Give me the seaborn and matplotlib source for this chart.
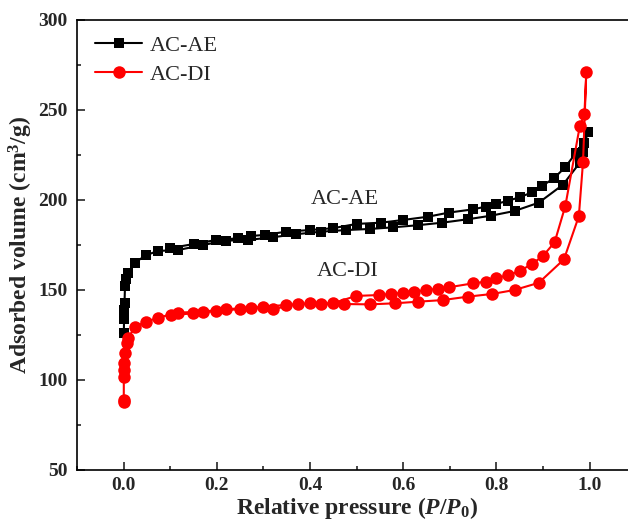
import numpy as np
import pandas as pd
import seaborn as sns
import matplotlib.pyplot as plt
from matplotlib.ticker import MultipleLocator

# AC-AE: adsorption branch then desorption branch (one closed loop)
ae_p_ads = [0.0005, 0.001, 0.0015, 0.002, 0.003, 0.005, 0.009, 0.024, 0.049, 0.074,
            0.117, 0.17, 0.22, 0.267, 0.32, 0.371, 0.424, 0.478, 0.528, 0.578,
            0.632, 0.684, 0.739, 0.789, 0.839, 0.891, 0.943, 0.979, 0.986, 0.996]
ae_v_ads = [126.0, 134.0, 139.0, 143.0, 152.0, 156.0, 159.3, 165.2, 169.4, 171.7,
            172.2, 175.0, 177.4, 177.8, 179.3, 181.0, 182.4, 183.3, 183.9, 184.8,
            186.0, 187.4, 189.3, 191.3, 193.9, 198.5, 208.5, 220.7, 226.8, 238.0]
ae_p_des = [0.989, 0.97, 0.948, 0.923, 0.898, 0.876, 0.85, 0.825, 0.8, 0.777,
            0.75, 0.698, 0.653, 0.6, 0.553, 0.5, 0.449, 0.399, 0.349, 0.303,
            0.274, 0.245, 0.199, 0.152, 0.099]
ae_v_des = [231.8, 226.0, 218.2, 212.0, 207.8, 204.2, 201.5, 199.6, 197.8, 196.3,
            194.8, 193.0, 190.7, 188.9, 187.4, 186.7, 184.3, 183.3, 182.4, 180.6,
            180.0, 178.7, 177.8, 175.6, 173.2]

# AC-DI
di_p_ads = [0.0002, 0.0004, 0.0005, 0.001, 0.0015, 0.003, 0.007, 0.01, 0.024, 0.049,
            0.074, 0.117, 0.17, 0.22, 0.274, 0.32, 0.374, 0.424, 0.474, 0.528,
            0.582, 0.632, 0.685, 0.739, 0.791, 0.839, 0.891, 0.945, 0.977, 0.986, 0.993]
di_v_ads = [87.9, 89.0, 101.8, 105.6, 109.3, 115.0, 120.4, 123.2, 129.6, 132.4,
            134.6, 137.4, 138.0, 139.3, 140.2, 139.3, 142.2, 142.2, 142.2, 142.0,
            142.6, 143.5, 144.4, 146.3, 147.8, 150.0, 154.0, 167.0, 191.0, 221.3, 271.0]
di_p_des = [0.989, 0.979, 0.948, 0.925, 0.9, 0.876, 0.85, 0.825, 0.8, 0.777,
            0.75, 0.698, 0.674, 0.65, 0.624, 0.6, 0.574, 0.549, 0.499, 0.449,
            0.399, 0.349, 0.299, 0.249, 0.199, 0.15, 0.102]
di_v_des = [247.8, 241.0, 196.7, 176.5, 168.9, 164.4, 160.5, 158.3, 156.5, 154.6,
            153.7, 151.5, 150.6, 150.0, 149.0, 148.5, 147.8, 147.2, 146.7, 142.6,
            142.6, 141.7, 140.7, 139.4, 138.3, 137.0, 136.1]

samples = ['AC-AE', 'AC-DI']

df = pd.concat([
    pd.DataFrame({'p': ae_p_ads + ae_p_des, 'v': ae_v_ads + ae_v_des, 'sample': 'AC-AE'}),
    pd.DataFrame({'p': di_p_ads + di_p_des, 'v': di_v_ads + di_v_des, 'sample': 'AC-DI'}),
], ignore_index=True)

sns.set_style('ticks')
plt.rcParams['font.family'] = ['Liberation Serif', 'DejaVu Serif']
plt.rcParams['mathtext.fontset'] = 'custom'
plt.rcParams['mathtext.rm'] = 'Liberation Serif:bold'
plt.rcParams['mathtext.bf'] = 'Liberation Serif:bold'
plt.rcParams['mathtext.it'] = 'Liberation Serif:italic:bold'

fig = plt.figure(figsize=(6.28, 5.26), dpi=100)
ax = fig.add_axes([0.1226, 0.1065, 0.8904, 0.8555])

sns.lineplot(data=df, x='p', y='v', hue='sample', style='sample',
             palette={'AC-AE': 'black', 'AC-DI': 'red'},
             markers={'AC-AE': 's', 'AC-DI': 'o'}, dashes=False,
             sort=False, estimator=None, legend=False, ax=ax,
             linewidth=1.5, markeredgewidth=0)
for line, s in zip(ax.lines, samples):
    line.set_markersize(7.5 if s == 'AC-AE' else 9)

ax.set_xlim(-0.1, 1.1)
ax.set_ylim(50, 300)
ax.xaxis.set_minor_locator(MultipleLocator(0.1))
ax.yaxis.set_major_locator(MultipleLocator(50))
ax.yaxis.set_minor_locator(MultipleLocator(25))
ax.set_xticks(np.arange(0, 1.01, 0.2))
ax.set_xticklabels([f'{t:.1f}' for t in np.arange(0, 1.01, 0.2)])
ax.tick_params(which='both', direction='in', top=False, right=False, width=1.2,
               labelsize=14)
ax.tick_params(which='major', length=6)
ax.tick_params(which='minor', length=3)
ax.tick_params(axis='y', pad=7)
ax.tick_params(axis='x', pad=5)
for lab in ax.get_xticklabels() + ax.get_yticklabels():
    lab.set_fontweight('bold')
for sp in ax.spines.values():
    sp.set_linewidth(1.2)
    sp.set_color('black')

ax.set_xlabel(r'Relative pressure ($P$/$P_0$)', fontsize=17, fontweight='bold', labelpad=1)
ax.set_ylabel(r'Adsorbed volume (cm$^3$/g)', fontsize=17, fontweight='bold', labelpad=2)

ax.text(0.474, 200.5, 'AC-AE', fontsize=16, ha='center', va='center')
ax.text(0.48, 160.5, 'AC-DI', fontsize=16, ha='center', va='center')

ax.legend(ax.lines[:2], samples, loc='upper left', bbox_to_anchor=(0.025, 0.975),
          frameon=False, fontsize=16, handlelength=2.1, handletextpad=0.35,
          labelspacing=0.35, borderpad=0.2, borderaxespad=0)

fig.savefig('out.png', dpi=100)
